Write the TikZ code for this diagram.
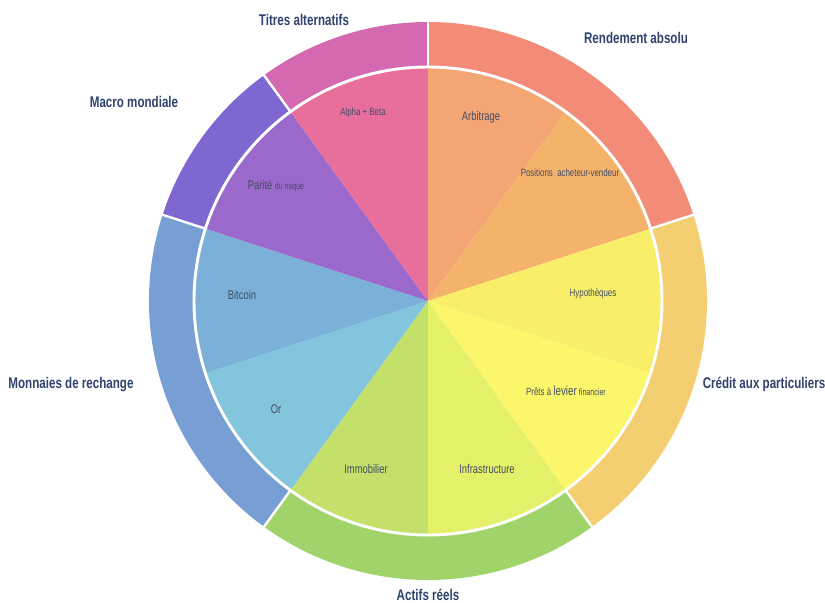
\documentclass[tikz,border=0pt]{standalone}
\usepackage{fontspec}
\setmainfont{Liberation Sans}[FakeStretch=0.75]
\definecolor{rendement}{HTML}{F28B77}
\definecolor{credit}{HTML}{F4CF72}
\definecolor{actifs}{HTML}{A0D46A}
\definecolor{monnaies}{HTML}{789FD3}
\definecolor{macro}{HTML}{7E67D1}
\definecolor{titres}{HTML}{D469B1}
\definecolor{arbitrage}{HTML}{F3A573}
\definecolor{positions}{HTML}{F5B26B}
\definecolor{hypo}{HTML}{F9EE6A}
\definecolor{prets}{HTML}{FCF76A}
\definecolor{infra}{HTML}{E5F06A}
\definecolor{immo}{HTML}{C3E06A}
\definecolor{gold}{HTML}{82C5DC}
\definecolor{bitcoin}{HTML}{7BB1D8}
\definecolor{parite}{HTML}{9A69CB}
\definecolor{alpha}{HTML}{E86F9B}
\definecolor{navy}{HTML}{2F436E}
\definecolor{slate}{HTML}{434C66}
\newcommand{\tinytext}[1]{{\fontsize{7.1}{8}\selectfont #1}}
\begin{document}
\begin{tikzpicture}[x=0.75pt, y=0.75pt,
		group/.style={font=\fontsize{11.6}{13}\selectfont\bfseries, text=navy},
		asset/.style={font=\fontsize{9.4}{11}\selectfont, text=slate},
		smallasset/.style={font=\fontsize{7.9}{9}\selectfont, text=slate}]
	\useasboundingbox (-428, -302) rectangle (397, 301);
		\foreach \a/\b/\c in {90/54/arbitrage, 54/18/positions, 18/-18/hypo, -18/-54/prets, -54/-90/infra, -90/-126/immo, -126/-162/gold, -162/-198/bitcoin, 162/126/parite, 126/90/alpha}
			\fill[\c] (0, 0) -- (\a:234) arc[start angle=\a, end angle=\b, radius=234] -- cycle;
		\foreach \a/\b/\c in {90/18/rendement, 18/-54/credit, -54/-126/actifs, -126/-198/monnaies, 162/126/macro, 126/90/titres}
			\fill[\c] (\a:234) arc[start angle=\a, end angle=\b, radius=234] -- (\b:279) arc[start angle=\b, end angle=\a, radius=279] -- cycle;
		\foreach \a in {90, 18, -54, -126, 162, 126}
			\draw[white, line width=1.8pt] (\a:233) -- (\a:281);
		\draw[white, line width=2.2pt] (0, 0) circle[radius=234];
		\node[group] (titres) at (-124, 281) {Titres alternatifs};
		\node[group] (rendement) at (208, 263) {Rendement absolu};
		\node[group] (macro) at (-294, 199) {Macro mondiale};
		\node[group] (monnaies) at (-357, -84) {Monnaies de rechange};
		\node[group] (credit) at (336, -83) {Crédit aux particuliers};
		\node[group] (actifs) at (0, -294) {Actifs réels};
		\node[smallasset] (alpha) at (-65, 188) {Alpha + Beta};
		\node[asset] (arbitrage) at (53, 184) {Arbitrage};
		\node[smallasset] (positions) at (142, 128) {Positions\ \ acheteur-vendeur};
		\node[smallasset] (hypo) at (165, 7) {Hypothèques};
		\node[smallasset] (prets) at (138, -90) {Prêts à {\fontsize{9.8}{11}\selectfont levier} \tinytext{financier}};
		\node[asset] (infra) at (59, -168) {Infrastructure};
		\node[asset] (immo) at (-62, -168) {Immobilier};
		\node[asset] (or) at (-152, -108) {Or};
		\node[asset] (bitcoin) at (-186, 6) {Bitcoin};
		\node[asset] (parite) at (-152, 115) {Parité \tinytext{du risque}};
	\end{tikzpicture}
\end{document}
